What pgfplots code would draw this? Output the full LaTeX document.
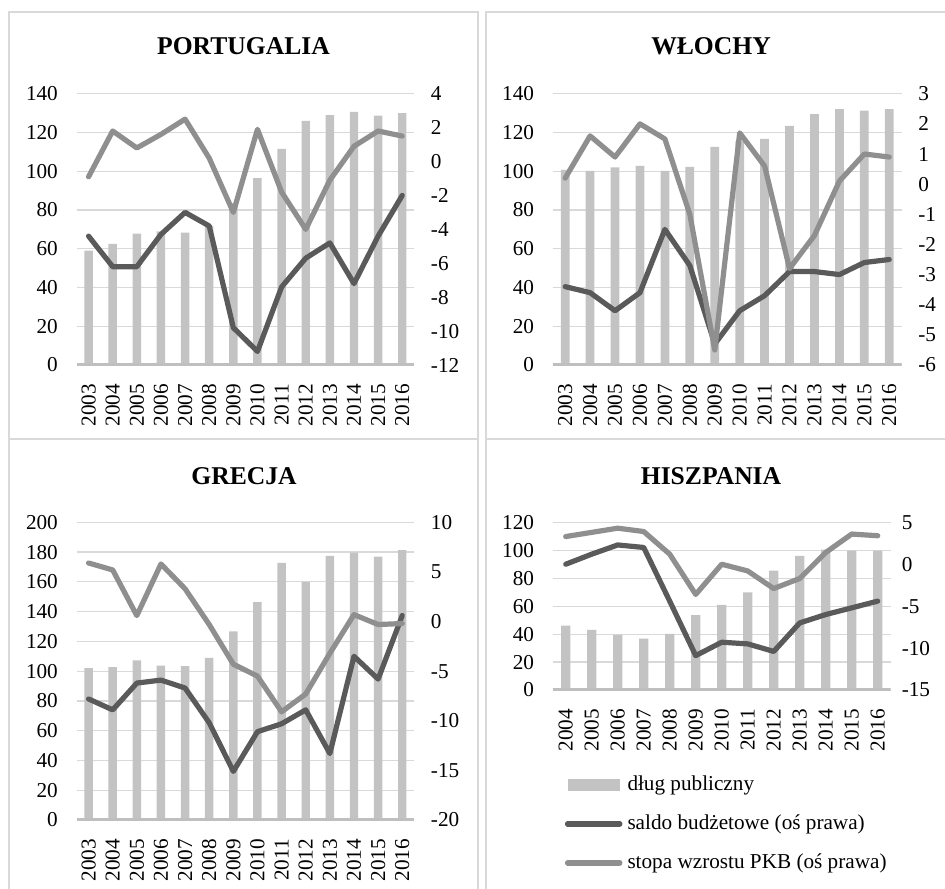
\documentclass[border=0pt]{standalone}
\usepackage{pgfplots}
\pgfplotsset{compat=1.18}
\usepackage{fontspec}
\setmainfont{Liberation Serif}
\definecolor{barcol}{HTML}{C3C3C3}
\definecolor{darkcol}{HTML}{5A5A5A}
\definecolor{growcol}{HTML}{8F8F8F}
\definecolor{basecol}{HTML}{BFBFBF}
\definecolor{gridcol}{HTML}{D9D9D9}
\definecolor{bordercol}{HTML}{D9D9D9}
\newcommand{\tickfont}{\fontsize{10.6}{12}\selectfont}
\newcommand{\titlefont}{\fontsize{12.8}{14}\selectfont\bfseries}
\pgfplotsset{
  base/.style={scale only axis, axis line style={draw=none}, major tick length=0pt,
    tick style={draw=none}, ticklabel style={font=\tickfont},
    /pgf/number format/assume math mode=true},
  leftax/.style={base, ymajorgrids, grid style={gridcol, line width=0.6pt},
    xtick={0,...,13}, xticklabel style={rotate=90, anchor=east},
    xticklabel shift=6pt, yticklabel shift=5.8pt, ybar, bar width=0.35},
  rightax/.style={base, hide x axis, axis y line*=right,
    yticklabel style={anchor=west}, yticklabel shift=4.8pt},
  dline/.style={darkcol, line width=2.6pt, line join=round, line cap=round},
  gline/.style={growcol, line width=2.6pt, line join=round, line cap=round},
  bars/.style={fill=barcol, draw=none},
}
\begin{document}
\begin{tikzpicture}
\useasboundingbox (0,0) rectangle (472.5pt,-444pt);
% panel borders
\draw[bordercol, line width=0.7pt] (4.5pt,-6pt) rectangle (239pt,-219.5pt);
\draw[bordercol, line width=0.7pt] (480pt,-6pt) -- (243pt,-6pt) -- (243pt,-219.5pt) -- (480pt,-219.5pt);
\draw[bordercol, line width=0.7pt] (4.5pt,-219.5pt) -- (4.5pt,-450pt);
\draw[bordercol, line width=0.7pt] (239pt,-219.5pt) -- (239pt,-450pt);
\draw[bordercol, line width=0.7pt] (243pt,-219.5pt) -- (243pt,-450pt);
% titles
\node[font=\titlefont] at (121.75pt,-23pt) {PORTUGALIA};
\node[font=\titlefont] at (355.5pt,-23pt) {WŁOCHY};
\node[font=\titlefont] at (122pt,-238pt) {GRECJA};
\node[font=\titlefont] at (355.5pt,-238pt) {HISZPANIA};

% ===== PORTUGALIA =====
\begin{axis}[leftax, at={(38.25pt,-182.5pt)}, anchor=south west, width=168.9pt, height=135.65pt,
  xmin=-0.5, xmax=13.5, ymin=0, ymax=140, ytick={0,20,...,140},
  xticklabels={2003,2004,2005,2006,2007,2008,2009,2010,2011,2012,2013,2014,2015,2016}]
\addplot[bars] coordinates {(0,59) (1,62.5) (2,67.8) (3,69) (4,68.3) (5,71.7) (6,83.6) (7,96.4) (8,111.5) (9,126) (10,129) (11,130.6) (12,128.7) (13,130)};
\draw[basecol, line width=2.3pt] (axis cs:-0.5,0) -- (axis cs:13.5,0);
\end{axis}
\begin{axis}[rightax, at={(38.25pt,-182.5pt)}, anchor=south west, width=168.9pt, height=135.65pt,
  xmin=-0.5, xmax=13.5, ymin=-12, ymax=4, ytick={-12,-10,...,4}]
\addplot[dline] coordinates {(0,-4.4) (1,-6.2) (2,-6.2) (3,-4.3) (4,-3.0) (5,-3.8) (6,-9.8) (7,-11.2) (8,-7.4) (9,-5.7) (10,-4.8) (11,-7.2) (12,-4.4) (13,-2.0)};
\addplot[gline] coordinates {(0,-0.9) (1,1.8) (2,0.8) (3,1.6) (4,2.5) (5,0.2) (6,-3.0) (7,1.9) (8,-1.8) (9,-4.0) (10,-1.1) (11,0.9) (12,1.8) (13,1.5)};
\end{axis}

% ===== WLOCHY =====
\begin{axis}[leftax, at={(276.35pt,-182.5pt)}, anchor=south west, width=174.5pt, height=135.65pt,
  xmin=-0.5, xmax=13.5, ymin=0, ymax=140, ytick={0,20,...,140},
  xticklabels={2003,2004,2005,2006,2007,2008,2009,2010,2011,2012,2013,2014,2015,2016}]
\addplot[bars] coordinates {(0,100.7) (1,100.2) (2,102) (3,102.7) (4,100.2) (5,102.2) (6,112.5) (7,115.4) (8,116.7) (9,123.4) (10,129.4) (11,132) (12,131.3) (13,132)};
\draw[basecol, line width=2.3pt] (axis cs:-0.5,0) -- (axis cs:13.5,0);
\end{axis}
\begin{axis}[rightax, at={(276.35pt,-182.5pt)}, anchor=south west, width=174.5pt, height=135.65pt,
  xmin=-0.5, xmax=13.5, ymin=-6, ymax=3, ytick={-6,-5,...,3}]
\addplot[dline] coordinates {(0,-3.4) (1,-3.6) (2,-4.2) (3,-3.6) (4,-1.5) (5,-2.7) (6,-5.3) (7,-4.2) (8,-3.7) (9,-2.9) (10,-2.9) (11,-3.0) (12,-2.6) (13,-2.5)};
\addplot[gline] coordinates {(0,0.2) (1,1.6) (2,0.9) (3,2.0) (4,1.5) (5,-1.0) (6,-5.5) (7,1.7) (8,0.6) (9,-2.8) (10,-1.7) (11,0.1) (12,1.0) (13,0.9)};
\end{axis}

% ===== GRECJA =====
\begin{axis}[leftax, at={(38.25pt,-410pt)}, anchor=south west, width=168.9pt, height=148.85pt,
  xmin=-0.5, xmax=13.5, ymin=0, ymax=200, ytick={0,20,...,200},
  xticklabels={2003,2004,2005,2006,2007,2008,2009,2010,2011,2012,2013,2014,2015,2016}]
\addplot[bars] coordinates {(0,102) (1,102.7) (2,107.2) (3,103.8) (4,103.4) (5,109) (6,126.7) (7,146.3) (8,172.8) (9,160) (10,177.5) (11,179.6) (12,176.9) (13,181.3)};
\draw[basecol, line width=2.3pt] (axis cs:-0.5,0) -- (axis cs:13.5,0);
\end{axis}
\begin{axis}[rightax, at={(38.25pt,-410pt)}, anchor=south west, width=168.9pt, height=148.85pt,
  xmin=-0.5, xmax=13.5, ymin=-20, ymax=10, ytick={-20,-15,...,10}]
\addplot[dline] coordinates {(0,-7.8) (1,-8.9) (2,-6.2) (3,-5.9) (4,-6.7) (5,-10.2) (6,-15.1) (7,-11.1) (8,-10.3) (9,-8.9) (10,-13.3) (11,-3.5) (12,-5.8) (13,0.6)};
\addplot[gline] coordinates {(0,5.9) (1,5.2) (2,0.6) (3,5.8) (4,3.3) (5,-0.3) (6,-4.3) (7,-5.5) (8,-9.1) (9,-7.3) (10,-3.2) (11,0.7) (12,-0.3) (13,-0.2)};
\end{axis}

% ===== HISZPANIA =====
\begin{axis}[leftax, at={(276.35pt,-345pt)}, anchor=south west, width=169pt, height=83.85pt,
  xmin=-0.5, xmax=12.5, ymin=0, ymax=120, ytick={0,20,...,120}, xtick={0,...,12},
  xticklabels={2004,2005,2006,2007,2008,2009,2010,2011,2012,2013,2014,2015,2016}]
\addplot[bars] coordinates {(0,46) (1,43.1) (2,39.5) (3,36.7) (4,40.2) (5,53.6) (6,61) (7,69.8) (8,85.5) (9,96) (10,100.4) (11,99.8) (12,99.8)};
\draw[basecol, line width=2.3pt] (axis cs:-0.5,0) -- (axis cs:12.5,0);
\end{axis}
\begin{axis}[rightax, at={(276.35pt,-345pt)}, anchor=south west, width=169pt, height=83.85pt,
  xmin=-0.5, xmax=12.5, ymin=-15, ymax=5, ytick={-15,-10,...,5}, yticklabel shift=2pt,
  legend cell align=left,
  legend image code/.code={\draw[#1] (0pt,0pt) -- (26pt,0pt);},
  legend style={at={(axis description cs:0.026,-0.50)}, anchor=north west, draw=none, fill=none,
    inner sep=0pt, row sep=9pt, column sep=1pt, font=\tickfont,
    nodes={inner sep=0pt, text height=8pt, text depth=2.5pt}}]
\addlegendimage{barcol, line width=5.8pt}
\addlegendimage{darkcol, line width=2.8pt, line cap=round}
\addlegendimage{growcol, line width=2.8pt, line cap=round}
\addplot[dline, forget plot] coordinates {(0,0.0) (1,1.2) (2,2.3) (3,2.0) (4,-4.4) (5,-10.9) (6,-9.3) (7,-9.5) (8,-10.4) (9,-7.0) (10,-6.0) (11,-5.2) (12,-4.4)};
\addplot[gline, forget plot] coordinates {(0,3.3) (1,3.8) (2,4.3) (3,3.9) (4,1.2) (5,-3.6) (6,0.0) (7,-0.8) (8,-2.9) (9,-1.7) (10,1.4) (11,3.6) (12,3.4)};
\legend{dług publiczny, saldo budżetowe (oś prawa), stopa wzrostu PKB (oś prawa)}
\end{axis}
\end{tikzpicture}
\end{document}
